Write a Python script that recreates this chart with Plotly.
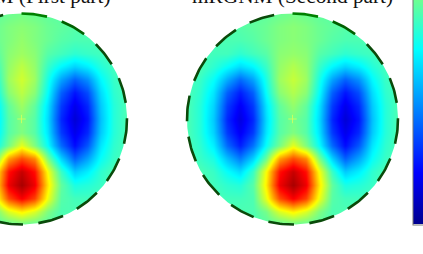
import numpy as np
import plotly.graph_objects as go

W, H = 423, 254
PAGE_W = 463  # the colour bar runs past the window's right edge, as in the reference

# Field values, as percent of the colour scale, top row first
left_field = [
    [45,45,45,45,45,46,47,48,49,48,47,46,45,45,45,45,45],
    [45,45,45,45,46,47,48,50,51,50,48,47,46,45,45,45,45],
    [45,45,45,45,45,46,48,50,52,50,48,46,45,45,45,45,45],
    [45,45,44,44,42,44,46,51,53,51,46,44,42,43,44,45,45],
    [45,45,42,38,34,37,43,52,56,52,43,37,33,36,41,44,45],
    [45,43,38,29,22,28,40,53,58,53,40,28,21,26,37,43,45],
    [45,42,35,21,14,21,38,51,56,51,38,21,13,19,34,42,45],
    [45,41,33,17,10,17,35,47,53,47,35,17,9,15,32,41,45],
    [45,41,32,15,8,15,34,46,50,46,34,15,7,13,31,41,45],
    [45,41,33,17,10,17,35,46,50,46,35,17,9,15,32,41,45],
    [45,42,36,22,14,23,38,49,60,50,38,22,12,20,35,42,45],
    [45,43,40,31,24,33,48,72,80,74,50,33,21,28,38,43,45],
    [45,45,43,38,34,43,62,86,93,86,62,43,32,36,42,45,45],
    [45,45,44,42,41,46,64,89,96,89,65,47,40,41,43,45,45],
    [45,45,45,44,44,45,60,80,88,81,61,46,44,44,45,45,45],
    [45,45,45,45,45,45,49,59,64,59,50,45,45,45,45,45,45],
    [45,45,45,45,45,45,46,47,48,47,46,45,45,45,45,45,45],
]
right_field = [
    [45,45,45,45,45,46,47,48,49,48,47,46,45,45,45,45,45],
    [45,45,45,45,46,47,48,50,51,50,48,47,46,45,45,45,45],
    [45,45,45,45,45,46,48,50,51,50,48,46,45,45,45,45,45],
    [45,45,44,44,42,44,46,51,52,51,46,44,42,43,44,45,45],
    [45,45,42,38,34,37,43,52,55,52,43,37,33,36,41,44,45],
    [45,43,38,29,22,28,40,53,57,53,40,28,21,26,37,43,45],
    [45,42,35,21,14,21,38,51,55,51,38,21,13,19,34,42,45],
    [45,41,33,17,10,17,35,47,52,47,35,17,9,15,32,41,45],
    [45,41,32,15,8,15,34,46,49,46,34,15,7,13,31,41,45],
    [45,41,33,17,10,17,35,46,50,46,35,17,9,15,32,41,45],
    [45,42,36,22,14,23,38,49,60,50,38,22,12,20,35,42,45],
    [45,43,40,31,24,33,48,72,80,74,50,33,21,28,38,43,45],
    [45,45,43,38,34,43,62,86,93,86,62,43,32,36,42,45,45],
    [45,45,44,42,41,46,64,89,96,89,65,47,40,41,43,45,45],
    [45,45,45,44,44,45,60,80,88,81,61,46,44,44,45,45,45],
    [45,45,45,45,45,45,49,59,64,59,50,45,45,45,45,45,45],
    [45,45,45,45,45,45,46,47,48,47,46,45,45,45,45,45,45],
]
titles = ["mRGNM (First part)", "mRGNM (Second part)"]
colorbar_ticks = [4.4, 24, 43.5, 63, 82.7]
jet = [[0, "rgb(0,0,143)"], [0.11, "rgb(0,0,255)"], [0.375, "rgb(0,255,255)"],
       [0.625, "rgb(255,255,0)"], [0.875, "rgb(255,0,0)"], [1, "rgb(128,0,0)"]]
dash_starts = [22.4 * i for i in range(16)]
dash_span = 14
dash_colors = ["#008000", "#006000"] + ["#0a4a0a"] * 14

# layout of the two discs, in page pixels
centers = [21.5, 292.5]
cy, R = 119, 105.5

fig = go.Figure()
for k, (cx, field) in enumerate(zip(centers, [left_field, right_field])):
    n = len(field)
    step = 2 * R / (n - 1)
    fig.add_trace(go.Heatmap(
        z=field, x0=cx - R, dx=step, y0=cy - R, dy=step, zsmooth="best",
        coloraxis="coloraxis", hoverinfo="skip"))
for k, cx in enumerate(centers):
    # white surround leaves only the disc visible (outer edge runs opposite to the circle)
    t = np.linspace(0, 2 * np.pi, 361)
    side = R + 12
    mx = list(cx + R * np.cos(t)) + [cx + side, cx + side, cx - side, cx - side, cx + side, cx + side, cx + R]
    my = list(cy + R * np.sin(t)) + [cy, cy - side, cy - side, cy + side, cy + side, cy, cy]
    fig.add_trace(go.Scatter(x=mx, y=my, mode="lines", fill="toself", fillcolor="white",
                             line=dict(width=0), hoverinfo="skip", showlegend=False))
    # centre cross
    fig.add_trace(go.Scatter(x=[cx], y=[cy], mode="markers",
                             marker=dict(symbol="cross-thin", size=6, line=dict(width=1, color="rgba(215,255,90,0.8)")),
                             hoverinfo="skip", showlegend=False))
    # dashed outline, clockwise from the top
    for start, col in zip(dash_starts, dash_colors):
        a = np.radians(np.linspace(start, start + dash_span, 12))
        fig.add_trace(go.Scatter(x=cx + R * np.sin(a), y=cy - R * np.cos(a), mode="lines",
                                 line=dict(color=col, width=2.6), hoverinfo="skip", showlegend=False))
    fig.add_annotation(x=cx, y=10, xref="x", yref="y", text=titles[k], showarrow=False,
                       xanchor="center", yanchor="bottom",
                       font=dict(family="Liberation Serif", size=21.3, color="#111111"))

fig.update_layout(
    width=PAGE_W, height=H, margin=dict(l=0, r=0, t=0, b=0),
    paper_bgcolor="white", plot_bgcolor="white", showlegend=False,
    xaxis=dict(range=[0, PAGE_W], visible=False, fixedrange=True),
    yaxis=dict(range=[H, 0], visible=False, fixedrange=True),
    coloraxis=dict(
        colorscale=jet, cmin=0, cmax=100,
        colorbar=dict(
            x=413 / PAGE_W, xanchor="left", xpad=0, ypad=0,
            y=1 - 224.5 / H, yanchor="bottom",
            lenmode="pixels", len=465, thicknessmode="pixels", thickness=30,
            outlinecolor="#777777", outlinewidth=1, borderwidth=0,
            tickvals=colorbar_ticks, ticks="inside", ticklen=4, tickcolor="#444444",
            showticklabels=False),
    ),
)
fig.write_html("out.html", config={"displayModeBar": False},
               post_script="document.body.style.margin='0';document.body.style.overflow='hidden';")
